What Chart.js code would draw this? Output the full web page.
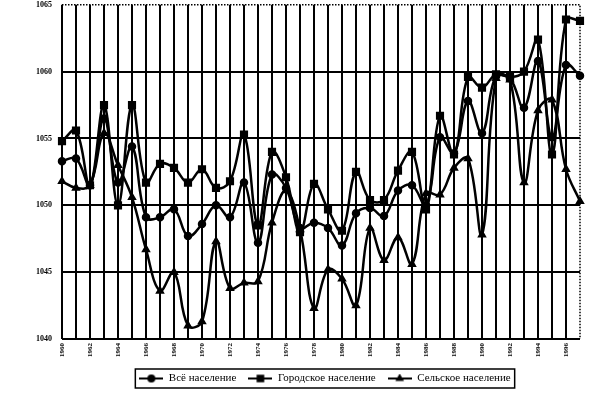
<!DOCTYPE html>
<html>
<head>
<meta charset="utf-8">
<script src="https://cdn.jsdelivr.net/npm/chart.js@4"></script>
<style>
body { margin: 0; background: #fff; overflow: hidden; }
#wrap { width: 596px; height: 409px; margin-top: -10px; }
</style>
</head>
<body>
<div id="wrap"><canvas id="myChart"></canvas></div>
<script>
var years = ['1960', '1961', '1962', '1963', '1964', '1965', '1966', '1967', '1968', '1969',
  '1970', '1971', '1972', '1973', '1974', '1975', '1976', '1977', '1978', '1979',
  '1980', '1981', '1982', '1983', '1984', '1985', '1986', '1987', '1988', '1989',
  '1990', '1991', '1992', '1993', '1994', '1995', '1996', '1997'];

var allPop = [1053.3, 1053.5, 1051.5, 1056.5, 1051.7, 1054.4, 1049.1, 1049.1, 1049.7, 1047.7,
  1048.6, 1050.0, 1049.1, 1051.7, 1047.2, 1052.3, 1051.3, 1048.3, 1048.7, 1048.3,
  1047.0, 1049.4, 1049.8, 1049.2, 1051.1, 1051.5, 1050.0, 1055.1, 1053.9, 1057.8,
  1055.4, 1059.7, 1059.5, 1057.3, 1060.8, 1055.1, 1060.5, 1059.7];

var urbanPop = [1054.8, 1055.6, 1051.5, 1057.5, 1050.0, 1057.5, 1051.7, 1053.1, 1052.8, 1051.7,
  1052.7, 1051.3, 1051.8, 1055.3, 1048.5, 1054.0, 1052.1, 1048.0, 1051.6, 1049.7,
  1048.1, 1052.5, 1050.4, 1050.4, 1052.6, 1054.0, 1049.7, 1056.7, 1053.8, 1059.6,
  1058.8, 1059.8, 1059.6, 1060.0, 1062.4, 1053.8, 1063.9, 1063.8];

var ruralPop = [1051.8, 1051.3, 1051.5, 1055.4, 1053.0, 1050.6, 1046.7, 1043.6, 1045.0, 1041.0,
  1041.3, 1047.3, 1043.8, 1044.2, 1044.3, 1048.7, 1051.1, 1048.2, 1042.3, 1045.2,
  1044.5, 1042.5, 1048.3, 1045.9, 1047.6, 1045.6, 1050.9, 1050.8, 1052.8, 1053.5,
  1047.8, 1059.5, 1059.4, 1051.7, 1057.1, 1057.9, 1052.7, 1050.3];

var yTicks = [1040, 1045, 1050, 1055, 1060, 1065];

// legend icon: short line with the marker in the middle
function makeIcon(style, r) {
  var c = document.createElement('canvas');
  c.width = 24; c.height = 10;
  var g = c.getContext('2d');
  g.strokeStyle = '#000';
  g.fillStyle = '#000';
  g.lineWidth = 2;
  g.beginPath(); g.moveTo(0, 5); g.lineTo(24, 5); g.stroke();
  Chart.helpers.drawPoint(g, {pointStyle: style, radius: r, borderWidth: 1, rotation: 0}, 12, 5);
  g.fill();
  return c;
}

var chartBorder = {
  id: 'chartBorder',
  afterLayout: function (chart) {
    // centre the legend under the plot area rather than the canvas
    var lg = chart.legend;
    lg.left += 22; lg.right += 22;
  },
  afterDraw: function (chart) {
    var a = chart.chartArea, c = chart.ctx;
    c.save();
    c.strokeStyle = '#000';
    c.lineWidth = 1.5;
    c.setLineDash([1.5, 1.5]);
    c.beginPath();
    c.moveTo(a.left, a.top); c.lineTo(a.right, a.top); c.lineTo(a.right, a.bottom);
    c.stroke();
    c.setLineDash([]);
    // frame round the legend
    var hb = chart.legend.legendHitBoxes;
    if (hb && hb.length) {
      var l = hb[0].left - 4, r = hb[hb.length - 1].left + hb[hb.length - 1].width + 4;
      var t = hb[0].top - 4, h = hb[0].height + 8;
      c.lineWidth = 1.5;
      c.strokeRect(l, t, r - l, h);
    }
    c.restore();
  }
};

var ctx = document.getElementById('myChart').getContext('2d');
var myChart = new Chart(ctx, {
  type: 'line',
  data: {
    labels: years,
    datasets: [{
      label: 'Всё население',
      data: allPop,
      borderColor: '#000',
      backgroundColor: '#000',
      borderWidth: 2.5,
      pointStyle: 'circle',
      pointRadius: 3,
      tension: 0.4
    }, {
      label: 'Городское население',
      data: urbanPop,
      borderColor: '#000',
      backgroundColor: '#000',
      borderWidth: 2.5,
      pointStyle: 'rect',
      pointRadius: 4,
      tension: 0.4
    }, {
      label: 'Сельское население',
      data: ruralPop,
      borderColor: '#000',
      backgroundColor: '#000',
      borderWidth: 2.5,
      pointStyle: 'triangle',
      pointRadius: 3,
      tension: 0.4
    }]
  },
  options: {
    responsive: true,
    maintainAspectRatio: false,
    animation: false,
    layout: { padding: { left: 26, right: 16, top: 0, bottom: 5 } },
    scales: {
      x: {
        grid: {
          color: function (c) { return c.index === years.length - 1 ? 'rgba(0,0,0,0)' : '#000'; },
          lineWidth: 2,
          drawTicks: false
        },
        border: { display: false },
        ticks: {
          autoSkip: false,
          maxRotation: 90,
          minRotation: 90,
          padding: 4,
          color: '#000',
          font: { family: 'Liberation Serif', size: 7, weight: 'bold' },
          callback: function (v, i) { return i % 2 === 0 ? years[i] : ''; }
        }
      },
      y: {
        min: 1040,
        max: 1065,
        afterBuildTicks: function (s) { s.ticks = yTicks.map(function (v) { return {value: v}; }); },
        grid: {
          color: function (c) { return c.tick && c.tick.value === 1065 ? 'rgba(0,0,0,0)' : '#000'; },
          lineWidth: 2,
          drawTicks: false
        },
        border: { display: false },
        ticks: {
          padding: 10,
          color: '#000',
          font: { family: 'Liberation Serif', size: 8, weight: 'bold' },
          callback: function (v) { return String(v); }
        }
      }
    },
    plugins: {
      legend: {
        position: 'bottom',
        labels: {
          usePointStyle: true,
          pointStyleWidth: 24,
          boxHeight: 10,
          padding: 12,
          color: '#000',
          font: { family: 'Liberation Serif', size: 11 },
          generateLabels: function (chart) {
            var items = Chart.defaults.plugins.legend.labels.generateLabels(chart);
            var styles = [['circle', 3], ['rect', 4], ['triangle', 3]];
            items.forEach(function (it, i) { it.pointStyle = makeIcon(styles[i][0], styles[i][1]); });
            return items;
          }
        }
      },
      tooltip: { enabled: false }
    }
  },
  plugins: [chartBorder]
});
</script>
</body>
</html>
